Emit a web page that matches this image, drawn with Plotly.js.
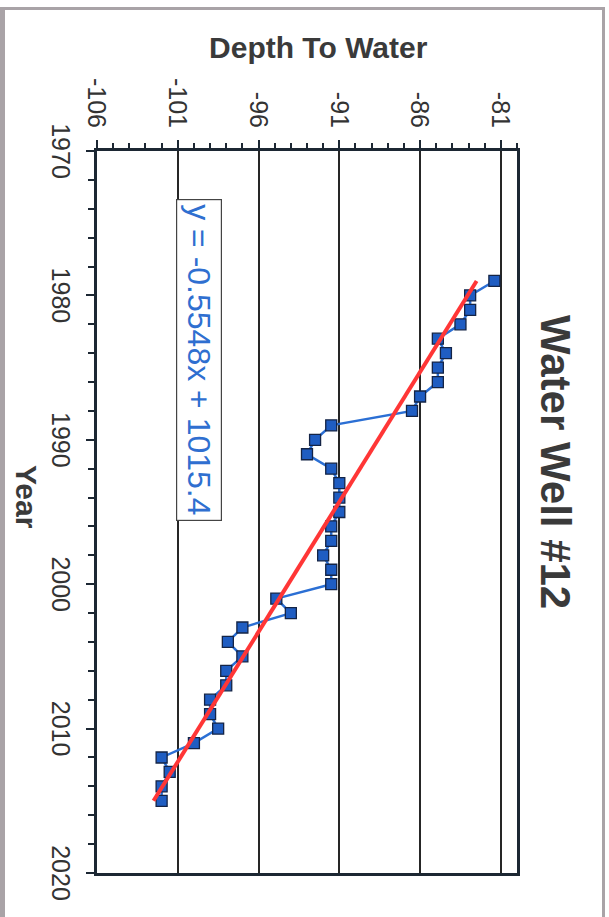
<!DOCTYPE html>
<html>
<head>
<meta charset="utf-8">
<script src="https://cdn.plot.ly/plotly-3.0.1.min.js"></script>
<style>
  html, body { margin: 0; padding: 0; width: 609px; height: 917px; overflow: hidden; background: #ffffff; }
  #frame { position: absolute; left: 0; top: 7px; width: 605px; height: 920px; z-index: 10; pointer-events: none;
           border-left: 5px solid #a9a3a7; border-top: 3px solid #a9a3a7; border-right: 3px solid #a9a3a7;
           box-sizing: border-box; }
  #chart { position: absolute; left: 0; top: 0; width: 917px; height: 609px; z-index: 1;
           transform-origin: 0 0; transform: translate(609px, 0) rotate(90deg); }
</style>
</head>
<body>
<div id="chart"></div>
<div id="frame"></div>
<script>
// Measured well data (year, depth to water)
const years = [1979, 1980, 1981, 1982, 1983, 1984, 1985, 1986, 1987, 1988,
               1989, 1990, 1991, 1992, 1993, 1994, 1995, 1996, 1997, 1998,
               1999, 2000, 2001, 2002, 2003, 2004, 2005, 2006, 2007, 2008,
               2009, 2010, 2011, 2012, 2013, 2014, 2015];
const depth = [-81.4, -82.9, -82.9, -83.5, -84.9, -84.4, -84.9, -84.9, -86.0, -86.5,
               -91.5, -92.5, -93.0, -91.5, -91.0, -91.0, -91.0, -91.5, -91.5, -92.0,
               -91.5, -91.5, -94.9, -94.0, -97.0, -97.9, -97.0, -98.0, -98.0, -99.0,
               -99.0, -98.5, -100.0, -102.0, -101.5, -102.0, -102.0];

// Linear trendline end points
const trendYears = [1979, 2015];
const trendDepth = [-82.5, -102.5];
const trendLabel = 'y = -0.5548x + 1015.4';

// Axis ticks
const depthTickVals = [-106, -101, -96, -91, -86, -81];
const depthTickText = ['-106', '-101', '-96', '-91', '-86', '-81'];
const yearTickVals = [1970, 1980, 1990, 2000, 2010, 2020];
const yearTickText = ['1970', '1980', '1990', '2000', '2010', '2020'];

const FONT = 'Liberation Sans, Arial, Helvetica, sans-serif';
const AXIS = '#1c2733';

const traces = [
  {
    x: years, y: depth, type: 'scatter', mode: 'lines+markers',
    line: { color: '#2b6fd4', width: 2.5 },
    marker: { symbol: 'square', size: 11, color: '#1f5dc2', line: { color: '#142446', width: 1.3 } },
    hoverinfo: 'x+y'
  },
  {
    x: trendYears, y: trendDepth, type: 'scatter', mode: 'lines',
    line: { color: '#ff3636', width: 4 },
    hoverinfo: 'skip'
  }
];

const layout = {
  width: 917, height: 609,
  margin: { l: 151, r: 44, t: 92, b: 97, pad: 0 },
  paper_bgcolor: '#ffffff', plot_bgcolor: '#ffffff',
  showlegend: false,
  font: { family: FONT, color: '#333333' },
  title: {
    text: 'Water Well #12',
    font: { family: FONT, size: 42, weight: 'bold', color: '#3a3a3a' },
    x: 0.504, xanchor: 'center', xref: 'container',
    y: 0.913, yanchor: 'middle', yref: 'container'
  },
  xaxis: {
    range: [1970, 2020],
    tickvals: yearTickVals, ticktext: yearTickText,
    ticks: 'outside', ticklen: 8, tickwidth: 2, tickcolor: AXIS,
    tickfont: { family: FONT, size: 25, color: '#333333' },
    ticklabelstandoff: 4,
    showline: true, linewidth: 3, linecolor: AXIS, mirror: true,
    showgrid: false, zeroline: false,
    minor: { dtick: 2, tick0: 1970, ticks: 'outside', ticklen: 6, tickwidth: 2, tickcolor: AXIS, showgrid: false }
  },
  yaxis: {
    range: [-106, -80],
    tickvals: depthTickVals, ticktext: depthTickText,
    ticks: 'outside', ticklen: 8, tickwidth: 2, tickcolor: AXIS,
    tickfont: { family: FONT, size: 25, color: '#333333' },
    ticklabelstandoff: 7,
    showline: true, linewidth: 3, linecolor: AXIS, mirror: true,
    showgrid: true, gridcolor: '#262626', gridwidth: 2, zeroline: false,
    minor: { dtick: 1, tick0: -106, ticks: 'outside', ticklen: 5, tickwidth: 2, tickcolor: AXIS, showgrid: false }
  },
  annotations: [
    {
      text: 'Depth To Water', xref: 'paper', yref: 'paper',
      x: -0.1427, y: 0.5286, xanchor: 'center', yanchor: 'middle',
      textangle: -90, showarrow: false,
      font: { family: FONT, size: 30, weight: 'bold', color: '#3a3a3a' }
    },
    {
      text: 'Year', xref: 'paper', yref: 'paper',
      x: 0.479, y: -0.1667, xanchor: 'center', yanchor: 'middle',
      showarrow: false,
      font: { family: FONT, size: 30, weight: 'bold', color: '#3a3a3a' }
    },
    {
      text: trendLabel, xref: 'paper', yref: 'paper',
      x: 0.2895, y: 0.2417, xanchor: 'center', yanchor: 'middle',
      showarrow: false,
      bgcolor: '#ffffff', bordercolor: '#444444', borderwidth: 1.2, borderpad: 4,
      font: { family: FONT, size: 32, color: '#2f6fd0' }
    }
  ]
};

Plotly.newPlot('chart', traces, layout, { displayModeBar: false, staticPlot: true });
</script>
</body>
</html>
